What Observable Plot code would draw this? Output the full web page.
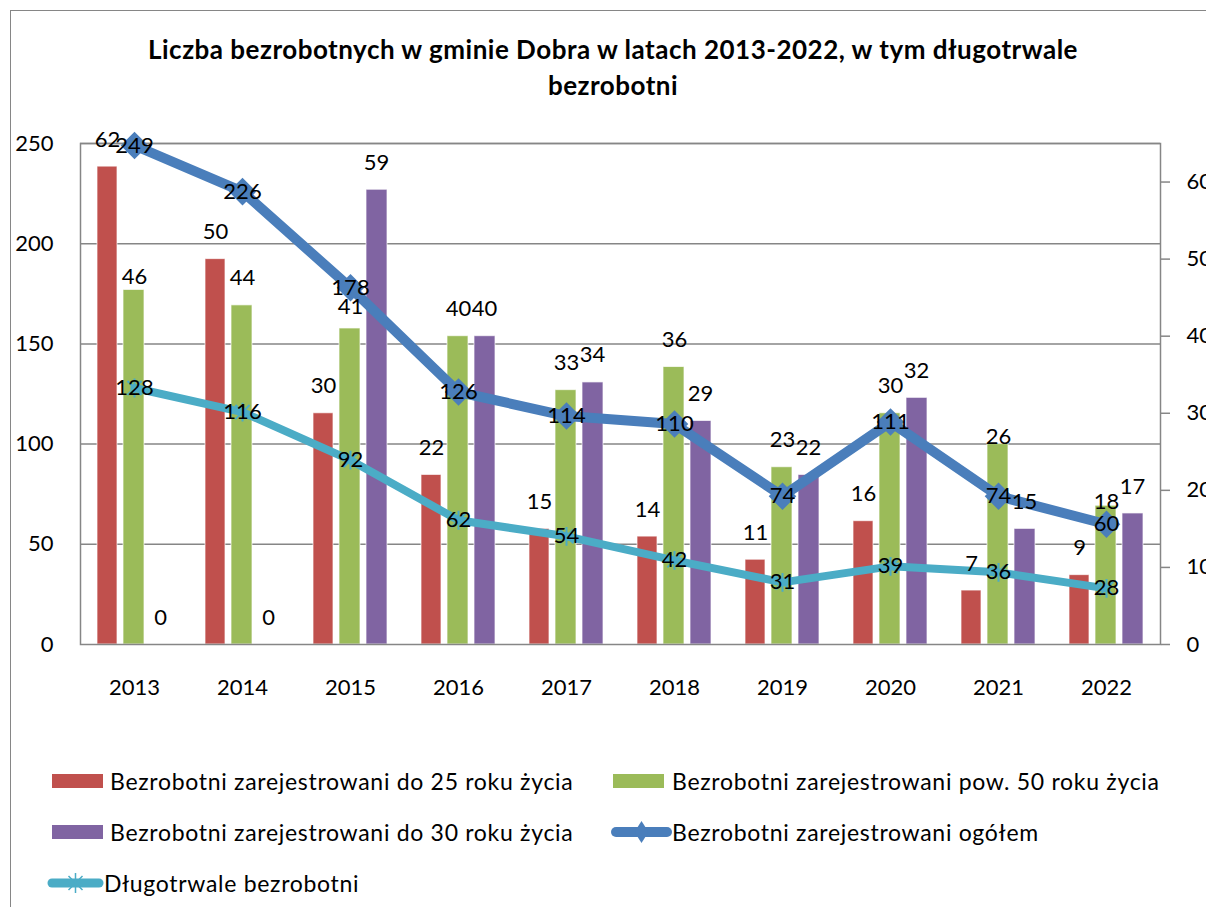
<!DOCTYPE html>
<html>
<head>
<meta charset="utf-8">
<script src="https://cdn.jsdelivr.net/npm/d3@7"></script>
<script src="https://cdn.jsdelivr.net/npm/@observablehq/plot@0.6"></script>
<style>
  html, body { margin: 0; padding: 0; background: #fff; }
  body { width: 1206px; height: 907px; position: relative; overflow: hidden; font-family: Lato, "Open Sans", sans-serif; color: #000; }
  #frame { position: absolute; left: 10px; top: 10px; width: 1300px; height: 1000px; border-left: 1.5px solid #868686; border-top: 1.5px solid #868686; }
  #title { position: absolute; left: 0; width: 1226px; top: 31px; text-align: center; font-weight: 700; font-size: 26px; letter-spacing: 0.5px; line-height: 36px; }
  #chart { position: absolute; left: 0; top: 100px; }
  .leg { position: absolute; font-size: 23px; letter-spacing: 0.7px; line-height: 24px; white-space: nowrap; }
  .sw { position: absolute; }
</style>
</head>
<body>
<div id="frame"></div>
<div id="title">Liczba bezrobotnych w gminie Dobra w latach 2013-2022, w tym długotrwale<br>bezrobotni</div>
<div id="chart"></div>
<div id="legend"></div>
<script>
// ---- data ----
const years = [2013, 2014, 2015, 2016, 2017, 2018, 2019, 2020, 2021, 2022];
const do25 = [62, 50, 30, 22, 15, 14, 11, 16, 7, 9];
const pow50 = [46, 44, 41, 40, 33, 36, 23, 30, 26, 18];
const do30 = [0, 0, 59, 40, 34, 29, 22, 32, 15, 17];
const ogolem = [249, 226, 178, 126, 114, 110, 74, 111, 74, 60];
const dlugo = [128, 116, 92, 62, 54, 42, 31, 39, 36, 28];
const seriesNames = [
  "Bezrobotni zarejestrowani do 25 roku życia",
  "Bezrobotni zarejestrowani pow. 50 roku życia",
  "Bezrobotni zarejestrowani do 30 roku życia",
  "Bezrobotni zarejestrowani ogółem",
  "Długotrwale bezrobotni"
];
const leftTicks = [0, 50, 100, 150, 200, 250];
const rightTicks = [0, 10, 20, 30, 40, 50, 60];
const leftMax = 250, rightMax = 65;

// ---- styling ----
const colors = ["#C0504D", "#9BBB59", "#8064A2", "#4A7EBB", "#4BACC6"];
const k = leftMax / rightMax; // secondary axis -> primary axis
const barSlots = [ {insetLeft: 17, insetRight: 71, dx: -27}, {insetLeft: 43, insetRight: 44, dx: 0}, {insetLeft: 70, insetRight: 17, dx: 26} ];
// Excel moved a few labels to avoid collisions
const labelDy = {"1|2013": -13, "1|2015": -22, "1|2021": -7, "1|2022": -4};

const diamondSym = {draw(ctx, size) { const h = Math.sqrt(size / 2); ctx.moveTo(0, -h); ctx.lineTo(h, 0); ctx.lineTo(0, h); ctx.lineTo(-h, 0); ctx.closePath(); }};
const starSym = {draw(ctx, size) { const h = Math.sqrt(size / 2); const d = h * 0.75; ctx.moveTo(0, -h); ctx.lineTo(0, h); ctx.moveTo(-d, -d); ctx.lineTo(d, d); ctx.moveTo(-d, d); ctx.lineTo(d, -d); }};

const barSeries = [do25, pow50, do30];
const barData = barSeries.map((vals, s) => years.map((year, i) => ({year, s, value: vals[i], scaled: vals[i] * k})));
const lineData = [ogolem, dlugo].map(vals => years.map((year, i) => ({year, value: vals[i]})));

const marks = [
  Plot.ruleY(leftTicks.slice(1), {stroke: "#868686", strokeWidth: 1.5}),
];
barData.forEach((d, s) => {
  marks.push(Plot.barY(d, {x: "year", y: "scaled", fill: colors[s], insetLeft: barSlots[s].insetLeft, insetRight: barSlots[s].insetRight, stroke: "#ffffff", strokeWidth: 1, strokeOpacity: 0.7}));
});
marks.push(Plot.frame({stroke: "#868686", strokeWidth: 1.5}));
marks.push(Plot.line(lineData[0], {x: "year", y: "value", stroke: colors[3], strokeWidth: 10, strokeLinejoin: "round", strokeLinecap: "round"}));
marks.push(Plot.line(lineData[1], {x: "year", y: "value", stroke: colors[4], strokeWidth: 8, strokeLinejoin: "round", strokeLinecap: "round"}));
marks.push(Plot.dot(lineData[0], {x: "year", y: "value", symbol: diamondSym, r: 11, fill: colors[3], stroke: "none"}));
marks.push(Plot.dot(lineData[1], {x: "year", y: "value", symbol: starSym, r: 7.5, stroke: colors[4], strokeWidth: 2}));
barData.forEach((d, s) => {
  d.forEach(p => {
    const key = s + "|" + p.year;
    marks.push(Plot.text([p], {x: "year", y: "scaled", text: q => String(q.value), dx: barSlots[s].dx, dy: labelDy[key] ?? -27, fill: "#000"}));
  });
});
lineData.forEach(d => {
  marks.push(Plot.text(d, {x: "year", y: "value", text: q => String(q.value), fill: "#000"}));
});
marks.push(Plot.axisY(leftTicks, {anchor: "left", tickSize: 0, tickPadding: 27, fill: "#000", label: null}));
marks.push(Plot.axisY(rightTicks.map(v => v * k), {anchor: "right", tickSize: 9, tickPadding: 17, stroke: "#868686", strokeWidth: 1.5, fill: "#000", label: null, tickFormat: v => String(Math.round(v / k))}));
marks.push(Plot.axisX({anchor: "bottom", tickSize: 0, tickPadding: 35, fill: "#000", label: null, tickFormat: d => String(d)}));

const chart = Plot.plot({
  width: 1206,
  height: 610,
  marginTop: 43,
  marginBottom: 66,
  marginLeft: 80,
  marginRight: 46,
  style: {fontFamily: "Lato, 'Open Sans', sans-serif", fontSize: "22px", color: "#000", background: "transparent", overflow: "visible"},
  x: {type: "band", domain: years, padding: 0, axis: null},
  y: {domain: [0, leftMax], axis: null},
  marks
});
document.getElementById("chart").appendChild(chart);

// ---- legend ----
const legend = document.getElementById("legend");
const legendItems = [
  {name: seriesNames[0], type: "bar", color: colors[0], sx: 52, tx: 110, y: 781},
  {name: seriesNames[1], type: "bar", color: colors[1], sx: 613, tx: 672, y: 781},
  {name: seriesNames[2], type: "bar", color: colors[2], sx: 52, tx: 110, y: 832},
  {name: seriesNames[3], type: "diamond", color: colors[3], sx: 611, tx: 672, y: 832},
  {name: seriesNames[4], type: "star", color: colors[4], sx: 47, tx: 104, y: 883}
];
const NS = "http://www.w3.org/2000/svg";
legendItems.forEach(it => {
  const svg = document.createElementNS(NS, "svg");
  svg.setAttribute("class", "sw");
  const w = it.tx - it.sx;
  svg.setAttribute("width", w);
  svg.setAttribute("height", 24);
  svg.style.left = it.sx + "px";
  svg.style.top = (it.y - 12) + "px";
  if (it.type === "bar") {
    const r = document.createElementNS(NS, "rect");
    r.setAttribute("x", 0); r.setAttribute("y", 5); r.setAttribute("width", 51); r.setAttribute("height", 14);
    r.setAttribute("fill", it.color);
    svg.appendChild(r);
  } else {
    const l = document.createElementNS(NS, "line");
    l.setAttribute("x1", 5); l.setAttribute("x2", w - 5); l.setAttribute("y1", 12); l.setAttribute("y2", 12);
    l.setAttribute("stroke", it.color); l.setAttribute("stroke-width", it.type === "diamond" ? 10 : 9); l.setAttribute("stroke-linecap", "round");
    svg.appendChild(l);
    const cx = w / 2, cy = 12;
    if (it.type === "diamond") {
      const p = document.createElementNS(NS, "path");
      p.setAttribute("d", `M${cx},${cy-11}L${cx+7},${cy}L${cx},${cy+11}L${cx-7},${cy}Z`);
      p.setAttribute("fill", it.color);
      svg.appendChild(p);
    } else {
      const p = document.createElementNS(NS, "path");
      p.setAttribute("d", `M${cx},${cy-10}V${cy+10}M${cx-7},${cy-7}L${cx+7},${cy+7}M${cx-7},${cy+7}L${cx+7},${cy-7}`);
      p.setAttribute("stroke", it.color); p.setAttribute("stroke-width", 1.5);
      svg.appendChild(p);
    }
  }
  legend.appendChild(svg);
  const t = document.createElement("div");
  t.className = "leg";
  t.textContent = it.name;
  t.style.left = it.tx + "px";
  t.style.top = (it.y - 12) + "px";
  legend.appendChild(t);
});
</script>
</body>
</html>
